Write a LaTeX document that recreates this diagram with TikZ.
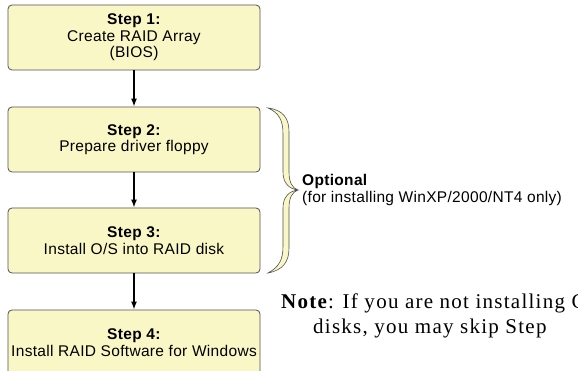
\documentclass[tikz,border=0pt]{standalone}
\usepackage{fontspec}
\setmainfont[LetterSpace=2]{Liberation Sans}
\newfontfamily\notefont[LetterSpace=6]{Liberation Serif}
\usetikzlibrary{arrows.meta}
\definecolor{boxfill}{RGB}{250,247,198}
\definecolor{boxline}{RGB}{80,80,80}

\begin{document}
\begin{tikzpicture}[x=1pt, y=-1pt, every node/.style={font=\fontsize{15.5}{16.5}\selectfont}, >={Latex[length=8pt,width=6pt]},
	stepbox/.style={draw=boxline, fill=boxfill, rounded corners=4pt, line width=0.8pt, minimum width=252pt, minimum height=65pt, align=center, inner sep=0pt}]
	\useasboundingbox (0,0) rectangle (578,371);
	\node[stepbox] (s1) at (134,37.5) {\textbf{Step 1:}\\Create RAID Array\\(BIOS)};
	\node[stepbox] (s2) at (134,139.5) {\textbf{Step 2:}\\Prepare driver floppy};
	\node[stepbox] (s3) at (134,240.5) {\textbf{Step 3:}\\Install O/S into RAID disk};
	\node[stepbox] (s4) at (134,342.5) {\textbf{Step 4:}\\Install RAID Software for Windows};
	\draw[->, line width=1.4pt] (s1) -- (s2);
	\draw[->, line width=1.4pt] (s2) -- (s3);
	\draw[->, line width=1.4pt] (s3) -- (s4);
	\draw[draw=boxline, fill=boxfill, line width=0.6pt] (268,108) .. controls (283,110) and (289,118) .. (289,132) -- (289,172)
		.. controls (289,182) and (292,188) .. (298,190) .. controls (292,192) and (289,198) .. (289,208) -- (289,248)
		.. controls (289,262) and (283,270) .. (268,273) .. controls (279,267) and (283,260) .. (283,246) -- (283,208)
		.. controls (283,197) and (289,191) .. (298,190) .. controls (289,189) and (283,183) .. (283,172) -- (283,134)
		.. controls (283,120) and (279,113) .. (268,108) -- cycle;
	\node[anchor=west, align=left, inner sep=0pt] (opt) at (302,190) {\textbf{Optional}\\(for installing WinXP/2000/NT4 only)};
	\node[anchor=base west, inner sep=0pt, font=\notefont\fontsize{21}{25}\selectfont] (note) at (281,308) {\textbf{Note}: If you are not installing C};
	\node[anchor=base west, inner sep=0pt, font=\notefont\fontsize{21}{25}\selectfont] (note2) at (313,333) {disks, you may skip Step};
\end{tikzpicture}
\end{document}
